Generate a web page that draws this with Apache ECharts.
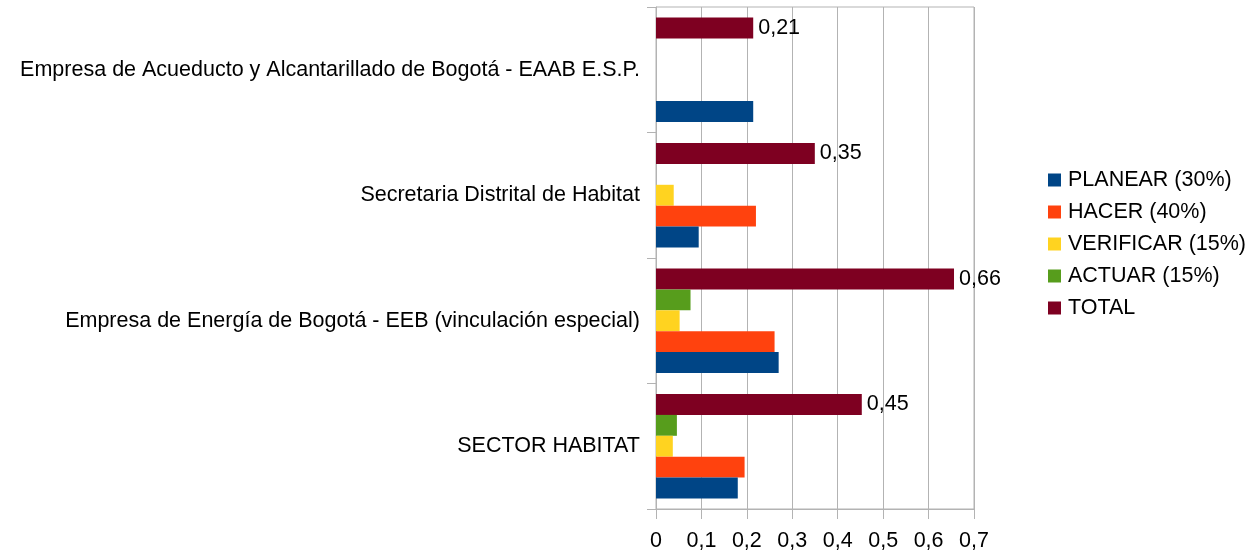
<!DOCTYPE html>
<html><head><meta charset="utf-8">
<script src="https://cdn.jsdelivr.net/npm/echarts@6/dist/echarts.min.js"></script>
<style>html,body{margin:0;padding:0;background:#fff}#c{width:1248px;height:552px}</style>
</head><body><div id="c"></div>
<script>
const categories = ['SECTOR HABITAT', 'Empresa de Energía de Bogotá - EEB (vinculación especial)', 'Secretaria Distrital de Habitat', 'Empresa de Acueducto y Alcantarillado de Bogotá - EAAB E.S.P.'];
const seriesNames = ['PLANEAR (30%)', 'HACER (40%)', 'VERIFICAR (15%)', 'ACTUAR (15%)', 'TOTAL'];
const planear = [0.180, 0.270, 0.094, 0.214];
const hacer = [0.195, 0.261, 0.220, 0];
const verificar = [0.037, 0.052, 0.039, 0];
const actuar = [0.046, 0.076, 0, 0];
const total = [0.453, 0.656, 0.3496, 0.214];
const xTicks = [0, 0.7, 0.1];
const colors = ['#004586', '#ff420e', '#ffd320', '#579d1c', '#7e0021'];
const seriesData = [planear, hacer, verificar, actuar, total];
const font = 'Liberation Sans, Arial, sans-serif';
const fs = 21.5;
const fmt = v => (Math.round(v * 100) / 100).toFixed(2).replace('.', ',');

const series = seriesData.map((d, i) => ({
  name: seriesNames[i], type: 'bar', data: d,
  itemStyle: {color: colors[i]},
  barGap: '0%', barCategoryGap: '16.7%',
  label: i === 4 ? {show: true, position: 'right', distance: 5, fontSize: fs, color: '#000', fontFamily: font, padding: [0, 0, 4, 0], formatter: p => fmt(p.value)} : {show: false}
})).reverse();

const chart = echarts.init(document.getElementById('c'), null, {renderer: 'canvas'});
chart.setOption({
  animation: false,
  textStyle: {fontFamily: font},
  grid: {left: 656, right: 274, top: 7, bottom: 41, show: true, borderColor: '#b3b3b3', borderWidth: 1, containLabel: false},
  legend: {
    orient: 'vertical', left: 1048, top: 169, padding: 0, itemWidth: 13, itemHeight: 13, itemGap: 10,
    icon: 'rect',
    textStyle: {fontSize: fs, color: '#000', fontFamily: font, lineHeight: 22, padding: [0, 0, 0, 2]},
    data: seriesNames
  },
  xAxis: {
    type: 'value', min: xTicks[0], max: xTicks[1], interval: xTicks[2],
    axisLine: {show: true, lineStyle: {color: '#b3b3b3'}},
    axisTick: {show: true, length: 10, lineStyle: {color: '#b3b3b3'}},
    splitLine: {show: true, lineStyle: {color: '#b3b3b3'}},
    axisLabel: {fontSize: fs, color: '#000', fontFamily: font, margin: 21, formatter: v => String(Math.round(v * 10) / 10).replace('.', ',')}
  },
  yAxis: {
    type: 'category', data: categories,
    axisLine: {show: true, lineStyle: {color: '#b3b3b3'}},
    axisTick: {show: true, length: 9, lineStyle: {color: '#b3b3b3'}},
    splitLine: {show: false},
    axisLabel: {fontSize: fs, color: '#000', fontFamily: font, margin: 16, padding: [0, 0, 6, 0]}
  },
  series: series
});
</script></body></html>
